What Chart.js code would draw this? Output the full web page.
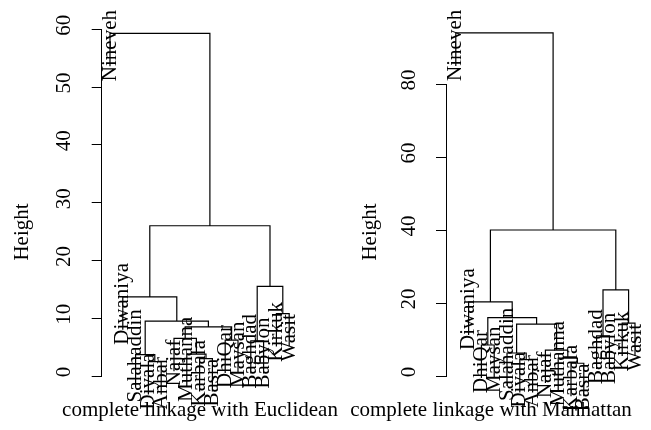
<!DOCTYPE html>
<html>
<head>
<meta charset="utf-8">
<script src="https://cdn.jsdelivr.net/npm/chart.js@4.4.1/dist/chart.umd.min.js"></script>
<style>
  html, body { margin: 0; padding: 0; background: #fff; }
  #wrap { position: relative; width: 651px; height: 430px; }
  canvas { position: absolute; top: 0; left: 0; }
</style>
</head>
<body>
<div id="wrap">
  <canvas id="euc" width="651" height="430"></canvas>
  <canvas id="man" width="651" height="430"></canvas>
</div>
<script>
// Euclidean tree: leaf order along x, merge steps and their heights.
// In a merge step a name is a leaf, a number points at an earlier step (1-based).
const eucLeaves = ['Nineveh', 'Diwaniya', 'Salahaddin', 'Diyala', 'Anbar', 'Najaf', 'Muthanna', 'Karbala',
  'Basra', 'DhiQar', 'Maysan', 'Baghdad', 'Babylon', 'Kirkuk', 'Wasit'];
const eucMerge = [
  ['Diyala', 'Anbar'], ['Salahaddin', 1], ['Karbala', 'Basra'], ['Muthanna', 3],
  ['Najaf', 4], ['DhiQar', 'Maysan'], ['Baghdad', 'Babylon'], [5, 6],
  [2, 8], ['Kirkuk', 'Wasit'], ['Diwaniya', 9], [7, 10], [11, 12], ['Nineveh', 13]
];
const eucHeight = [2.5, 3.7, 3.0, 3.8, 6.5, 6.2, 6.1, 8.5, 9.5, 10.8, 13.7, 15.5, 26.0, 59.3];

// Manhattan tree
const manLeaves = ['Nineveh', 'Diwaniya', 'DhiQar', 'Maysan', 'Salahaddin', 'Diyala', 'Anbar', 'Najaf',
  'Muthanna', 'Karbala', 'Basra', 'Baghdad', 'Babylon', 'Kirkuk', 'Wasit'];
const manMerge = [
  ['Diyala', 'Anbar'], ['Salahaddin', 1], ['Karbala', 'Basra'], ['Muthanna', 3],
  ['Najaf', 4], ['DhiQar', 'Maysan'], ['Baghdad', 'Babylon'], ['Kirkuk', 'Wasit'],
  [2, 5], [6, 9], ['Diwaniya', 10], [7, 8], [11, 12], ['Nineveh', 13]
];
const manHeight = [4.5, 6.3, 3.5, 4.9, 7.1, 8.5, 11.0, 14.5, 14.2, 16.0, 20.3, 23.6, 40.0, 94.0];

const eucTicks = [0, 10, 20, 30, 40, 50, 60];
const manTicks = [0, 20, 40, 60, 80];

const FONT = '"Liberation Serif", "Times New Roman", serif';
const SIZE = 21;

// turn merge steps into bracket polylines (gaps between brackets) and leaf end heights
function layout(leaves, merge, height) {
  const hang = 0.1 * (Math.max(...height) - Math.min(...height));
  const pos = {};
  leaves.forEach((n, i) => { pos[n] = i + 1; });
  const nodes = [];
  const segs = [];
  const leafEnd = {};
  merge.forEach((pair, k) => {
    const h = height[k];
    const ends = pair.map(c => {
      if (typeof c === 'string') {
        leafEnd[c] = h - hang;
        return { x: pos[c], y: h - hang };
      }
      return nodes[c - 1];
    });
    segs.push(
      { x: ends[0].x, y: ends[0].y }, { x: ends[0].x, y: h },
      { x: ends[1].x, y: h }, { x: ends[1].x, y: ends[1].y },
      { x: ends[1].x, y: null }
    );
    nodes.push({ x: (ends[0].x + ends[1].x) / 2, y: h });
  });
  return { segs, leafEnd };
}

// leaf names, panel caption and y label
function textPlugin(leaves, leafEnd, c) {
  return {
    id: 'dendroText',
    afterDraw(chart) {
      const { ctx } = chart;
      const xs = chart.scales.x, ys = chart.scales.y;
      ctx.save();
      ctx.fillStyle = '#000';
      ctx.font = SIZE + 'px ' + FONT;
      ctx.textBaseline = 'middle';
      leaves.forEach((name, i) => {
        const x = xs.getPixelForValue(i + 1);
        const y = ys.getPixelForValue(leafEnd[name]) + 15;
        ctx.save();
        ctx.translate(x, y);
        ctx.rotate(-Math.PI / 2);
        ctx.textAlign = 'left';
        ctx.fillText(name, 0, 0);
        ctx.restore();
      });
      ctx.textAlign = 'center';
      ctx.fillText(c.title, c.titleX, 410);
      ctx.save();
      ctx.translate(c.ylabX, 232);
      ctx.rotate(-Math.PI / 2);
      ctx.fillText('Height', 0, 0);
      ctx.restore();
      ctx.restore();
    }
  };
}

function makeChart(id, leaves, merge, height, ticks, c) {
  const { segs, leafEnd } = layout(leaves, merge, height);
  return new Chart(document.getElementById(id), {
    type: 'scatter',
    data: {
      datasets: [{
        data: segs, showLine: true, spanGaps: false, clip: false,
        borderColor: '#000', borderWidth: 1.2, pointRadius: 0
      }]
    },
    options: {
      responsive: false, animation: false, devicePixelRatio: 1, events: [],
      layout: { padding: { left: 0, right: c.padRight, top: c.padTop, bottom: 54 } },
      plugins: { legend: { display: false }, tooltip: { enabled: false } },
      scales: {
        x: { type: 'linear', display: false, min: c.xMin, max: c.xMax },
        y: {
          type: 'linear', min: ticks[0], max: ticks[ticks.length - 1],
          afterFit: s => { s.width = c.axisLeft; },
          afterBuildTicks: s => { s.ticks = ticks.map(v => ({ value: v })); },
          ticks: {
            autoSkip: false, minRotation: 90, maxRotation: 90, crossAlign: 'center',
            padding: 16.5, labelOffset: -4,
            color: '#000', font: { family: FONT, size: SIZE }
          },
          grid: { drawOnChartArea: false, drawTicks: true, tickLength: 10, color: '#000' },
          border: { display: true, color: '#000' }
        }
      }
    },
    plugins: [textPlugin(leaves, leafEnd, c)]
  });
}

// both panels share one 651px wide frame; padding places each plot region
makeChart('euc', eucLeaves, eucMerge, eucHeight, eucTicks, {
  axisLeft: 101.7, padRight: 351, padTop: 29.3, xMin: 0.352, xMax: 15.844,
  title: 'complete linkage with Euclidean', titleX: 200, ylabX: 22
});
makeChart('man', manLeaves, manMerge, manHeight, manTicks, {
  axisLeft: 446, padRight: 7.5, padTop: 84, xMin: 0.234, xMax: 15.664,
  title: 'complete linkage with Manhattan', titleX: 491, ylabX: 370
});
</script>
</body>
</html>
